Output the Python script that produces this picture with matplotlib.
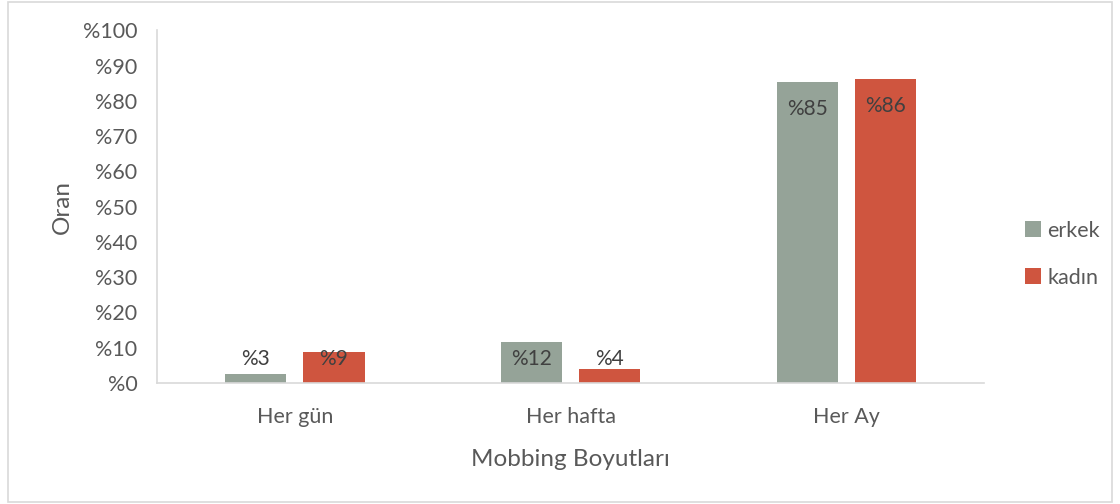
import matplotlib.pyplot as plt
import numpy as np
from matplotlib.patches import Rectangle

plt.rcParams['font.family'] = ['Lato', 'DejaVu Sans']

categories = ['Her gün', 'Her hafta', 'Her Ay']
erkek = [2.6, 11.7, 85.2]
kadin = [8.9, 4.0, 86.1]
series_names = ['erkek', 'kadın']
yticks = list(range(0, 101, 10))

c_erkek = '#95A398'
c_kadin = '#CF553F'
txt = '#595959'

fig = plt.figure(figsize=(11.2, 5.04), dpi=100)
ax = fig.add_axes([0.140, 0.240, 0.739, 0.700])

# outer chart border
fig.patches.append(Rectangle((0.007, 0.004), 0.986, 0.992, transform=fig.transFigure,
                             fill=False, edgecolor='#D9D9D9', linewidth=1.2))

x = np.arange(len(categories))
w = 0.223
off = w / 2 + 0.03
b1 = ax.bar(x - off, erkek, w, color=c_erkek, label=series_names[0])
b2 = ax.bar(x + off, kadin, w, color=c_kadin, label=series_names[1])

# data labels, "inside end" like excel
for xs, vals in [(x - off, erkek), (x + off, kadin)]:
    for xi, v in zip(xs, vals):
        ly = max(v - 7.6, 6.8)
        ax.text(xi, ly, '%' + str(int(round(v))), ha='center', va='center',
                fontsize=15, color='#404040')

ax.set_xlim(-0.5, 2.5)
ax.set_ylim(0, 100)
ax.set_yticks(yticks)
ax.set_yticklabels(['%' + str(t) for t in yticks])
ax.set_xticks(x)
ax.set_xticklabels(categories)
ax.tick_params(length=0, labelsize=15.5, labelcolor=txt)
ax.tick_params(axis='y', pad=14)
ax.tick_params(axis='x', pad=17)

for s in ['top', 'right']:
    ax.spines[s].set_visible(False)
for s in ['left', 'bottom']:
    ax.spines[s].set_color('#D9D9D9')
    ax.spines[s].set_linewidth(1.2)

ax.set_xlabel('Mobbing Boyutları', fontsize=17.5, color=txt, labelpad=16)
ax.set_ylabel('Oran', fontsize=17.5, color=txt, labelpad=7)

ax.legend(loc='center left', bbox_to_anchor=(1.025, 0.365), frameon=False,
          fontsize=15.5, labelcolor=txt, handlelength=0.75, handleheight=0.75,
          handletextpad=0.3, labelspacing=1.25)

plt.savefig('out.png')
